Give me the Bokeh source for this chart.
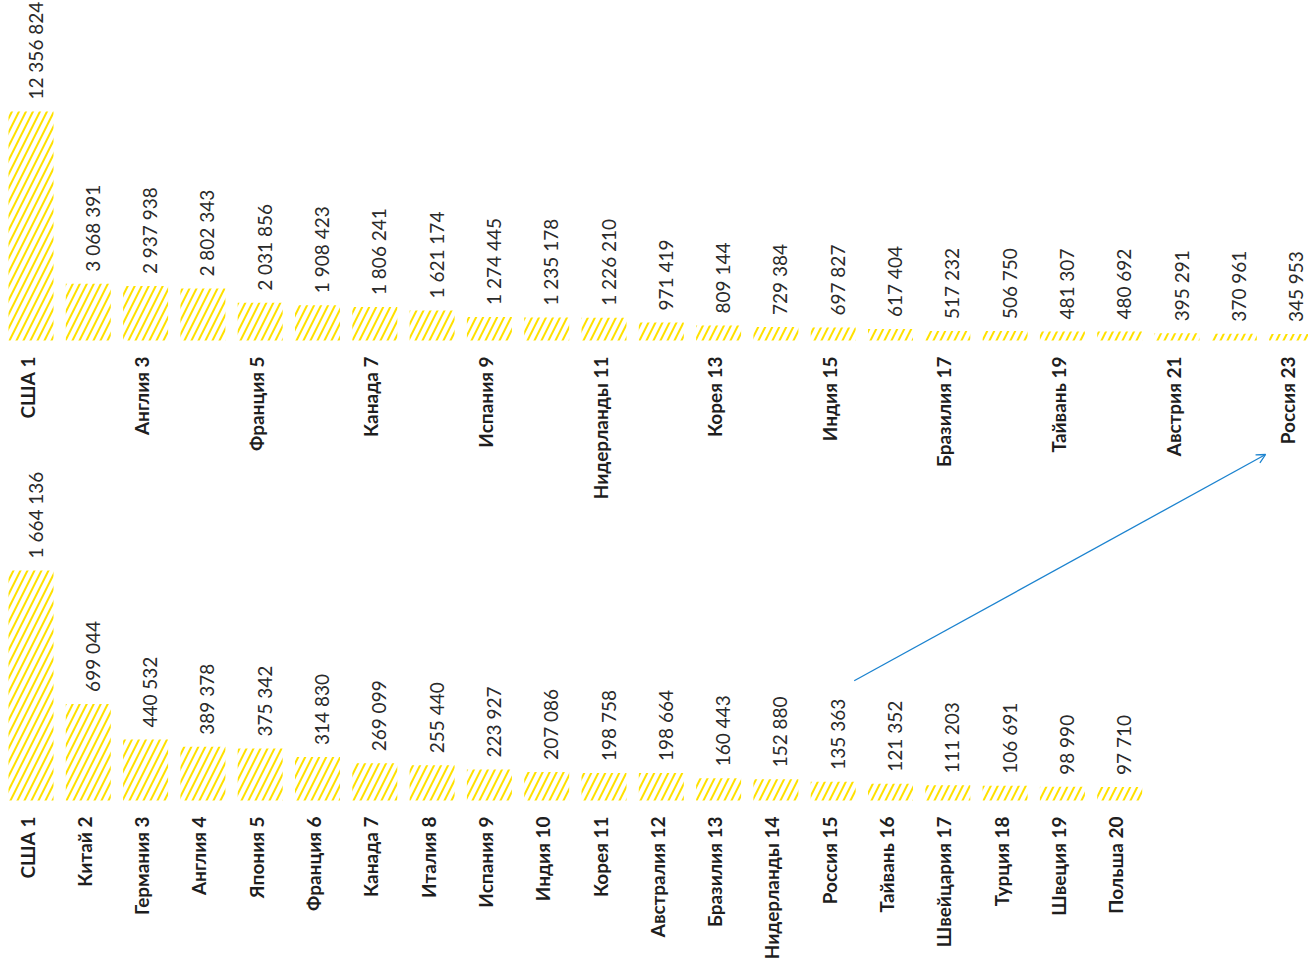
import math
from bokeh.plotting import figure
from bokeh.models import Range1d, ColumnDataSource, Arrow, OpenHead
from bokeh.core.properties import value
from bokeh.embed import file_html
from bokeh.resources import INLINE

# ---------------- data ----------------
top_labels = ["США 1", "", "Англия 3", "", "Франция 5", "", "Канада 7", "",
              "Испания 9", "", "Нидерланды 11", "", "Корея 13", "", "Индия 15", "",
              "Бразилия 17", "", "Тайвань 19", "", "Австрия 21", "", "Россия 23"]
top_values = [12356824, 3068391, 2937938, 2802343, 2031856, 1908423, 1806241,
              1621174, 1274445, 1235178, 1226210, 971419, 809144, 729384, 697827,
              617404, 517232, 506750, 481307, 480692, 395291, 370961, 345953]

bottom_labels = ["США 1", "Китай 2", "Германия 3", "Англия 4", "Япония 5",
                 "Франция 6", "Канада 7", "Италия 8", "Испания 9", "Индия 10",
                 "Корея 11", "Австралия 12", "Бразилия 13", "Нидерланды 14",
                 "Россия 15", "Тайвань 16", "Швейцария 17", "Турция 18",
                 "Швеция 19", "Польша 20"]
bottom_values = [1664136, 699044, 440532, 389378, 375342, 314830, 269099, 255440,
                 223927, 207086, 198758, 198664, 160443, 152880, 135363, 121352,
                 111203, 106691, 98990, 97710]

# ---------------- layout ----------------
W, H = 1308, 965
PITCH = 57.3          # px per category
X0 = 30.5             # px centre of first bar
TOP_BASE = 340        # px from top, baseline of upper chart
BOT_BASE = 800        # px from top, baseline of lower chart
TOP_K = 229 / 12.36e6  # px per unit
BOT_K = 230 / 1.664e6

YELLOW = "#FFE100"
VAL_COLOR = "#2a2a2a"
LAB_COLOR = "#1e1e1e"
BLUE = "#1c83cf"

def fmt(v):
    return f"{v:,}".replace(",", " ")

xs = -X0 / PITCH
p = figure(width=W, height=H, output_backend="svg", toolbar_location=None,
           x_axis_location=None, y_axis_location=None, min_border=0,
           x_range=Range1d(xs, xs + W / PITCH),
           y_range=Range1d(-(H - TOP_BASE) / TOP_K, TOP_BASE / TOP_K))
p.extra_y_ranges = {"bot": Range1d(-(H - BOT_BASE) / BOT_K, BOT_BASE / BOT_K)}
p.grid.visible = False
p.outline_line_color = None
p.background_fill_color = "white"
p.border_fill_color = "white"

src_top = ColumnDataSource(dict(x=list(range(len(top_values))), v=top_values,
                                t=[fmt(v) for v in top_values], lab=top_labels))
src_bot = ColumnDataSource(dict(x=list(range(len(bottom_values))), v=bottom_values,
                                t=[fmt(v) for v in bottom_values], lab=bottom_labels))

for src, rn in ((src_top, "default"), (src_bot, "bot")):
    p.vbar(x="x", top="v", bottom=0, width=45 / PITCH, source=src, y_range_name=rn,
           fill_alpha=0, line_color=None, hatch_pattern="/", hatch_color=YELLOW,
           hatch_scale=14, hatch_weight=2)
    p.text(x="x", y="v", text="t", source=src, y_range_name=rn, angle=math.pi / 2,
           text_align="left", text_baseline="middle", x_offset=4, y_offset=-12,
           text_font=value("Lato"), text_font_size="19px", text_color=VAL_COLOR)
    p.text(x="x", y=0, text="lab", source=src, y_range_name=rn, angle=math.pi / 2,
           text_align="right", text_baseline="middle", x_offset=-4, y_offset=16,
           text_font=value("Lato"), text_font_style="bold", text_font_size="19px",
           text_color=LAB_COLOR)

# arrow from Россия (lower chart) to Россия (upper chart)
def px_to_x(px):
    return xs + px / PITCH

def px_to_ytop(py):
    return (TOP_BASE - py) / TOP_K

ib = bottom_labels.index("Россия 15")
it = top_labels.index("Россия 23")
sx = X0 + ib * PITCH + 21
sy = BOT_BASE - bottom_values[ib] * BOT_K - 101
ex = X0 + it * PITCH - 26
ey = TOP_BASE + 114
p.add_layout(Arrow(end=OpenHead(size=9, line_color=BLUE, line_width=1.3),
                   x_start=px_to_x(sx), y_start=px_to_ytop(sy),
                   x_end=px_to_x(ex), y_end=px_to_ytop(ey),
                   line_color=BLUE, line_width=1.3))

open("out.html", "w").write(file_html(p, INLINE))
